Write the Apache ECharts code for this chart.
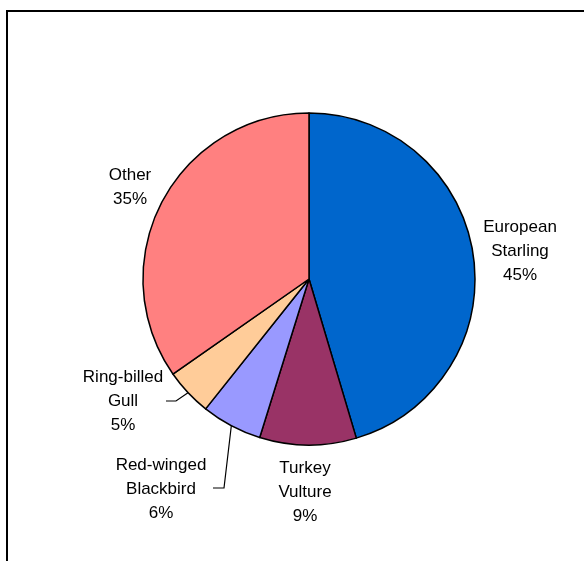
<!DOCTYPE html>
<html>
<head>
<meta charset="utf-8">
<script src="https://cdn.jsdelivr.net/npm/echarts@6/dist/echarts.min.js"></script>
<style>
html,body{margin:0;padding:0;background:#fff;}
#chart{width:584px;height:561px;}
</style>
</head>
<body>
<div id="chart"></div>
<script>
// Data
var categories = ['European\nStarling', 'Turkey\nVulture', 'Red-winged\nBlackbird', 'Ring-billed\nGull', 'Other'];
var values = [45.4, 9.4, 5.9, 4.6, 34.7];
var colors = ['#0066CC', '#993366', '#9999FF', '#FFCC99', '#FF8080'];

// Label placement (layout only)
var labelPos = [
  {x: 520, y: 251},
  {x: 305, y: 492},
  {x: 161, y: 489, line: [[224, 488], [213, 488]]},
  {x: 123, y: 401, line: [[176, 401], [166, 401]]},
  {x: 130, y: 187}
];

var chart = echarts.init(document.getElementById('chart'), null, {renderer: 'canvas'});
var data = categories.map(function (c, i) {
  return {
    name: c,
    value: values[i],
    itemStyle: {color: colors[i]},
    labelLine: {show: !!labelPos[i].line}
  };
});

chart.setOption({
  animation: false,
  graphic: [{
    type: 'rect',
    shape: {x: 7, y: 11, width: 700, height: 700},
    style: {fill: 'none', stroke: '#000', lineWidth: 2},
    silent: true
  }],
  series: [{
    type: 'pie',
    center: [309, 279],
    radius: 166,
    startAngle: 90,
    clockwise: true,
    avoidLabelOverlap: false,
    itemStyle: {borderColor: '#000', borderWidth: 1.5},
    label: {
      show: true,
      position: 'outside',
      fontFamily: '"Liberation Sans", Arial, sans-serif',
      fontSize: 17,
      lineHeight: 24,
      color: '#000',
      align: 'center',
      formatter: function (p) { return p.name + '\n' + Math.round(p.percent) + '%'; }
    },
    labelLine: {
      show: true,
      length: 10,
      length2: 10,
      lineStyle: {color: '#000', width: 1.2}
    },
    emphasis: {disabled: true},
    labelLayout: function (params) {
      var lp = labelPos[params.dataIndex];
      var res = {x: lp.x, y: lp.y, align: 'center', verticalAlign: 'middle'};
      if (lp.line && params.labelLinePoints) {
        res.labelLinePoints = [params.labelLinePoints[0], lp.line[0], lp.line[1]];
      }
      return res;
    },
    data: data
  }]
});
</script>
</body>
</html>
